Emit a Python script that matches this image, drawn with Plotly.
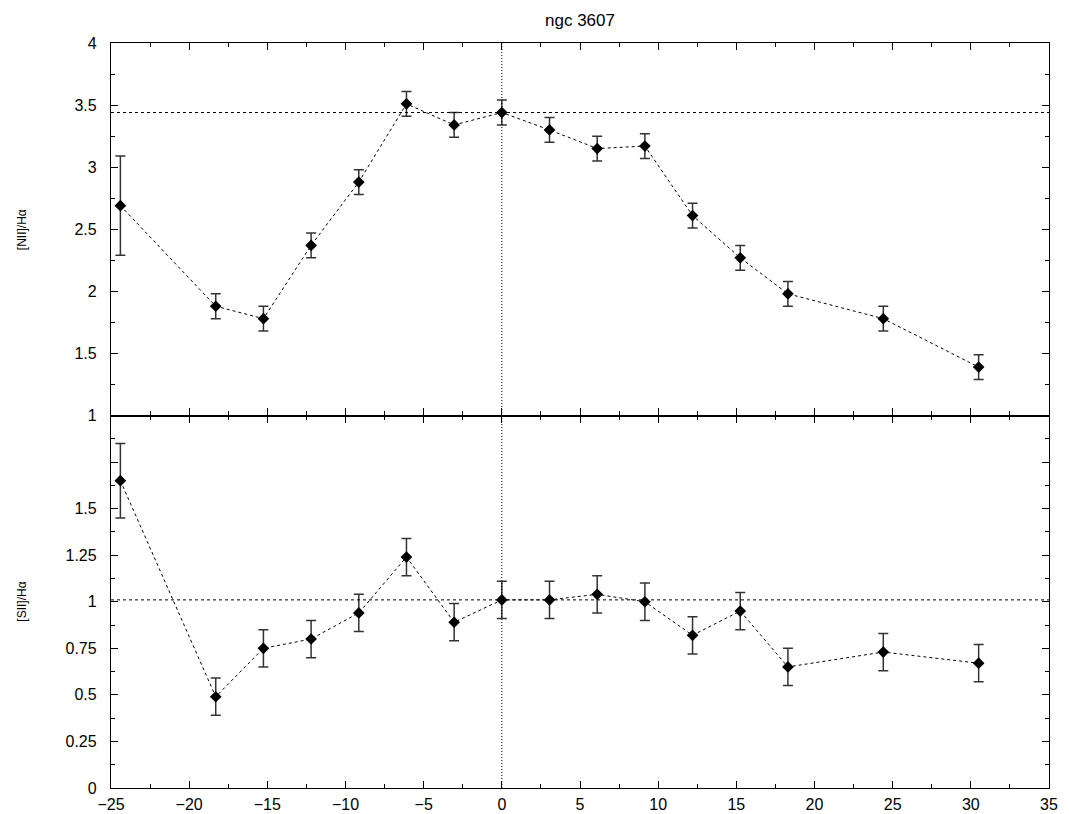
import plotly.graph_objects as go

# Data
positions = [-24.4, -18.3, -15.25, -12.2, -9.15, -6.1, -3.05, 0.0, 3.05, 6.1, 9.15, 12.2, 15.25, 18.3, 24.4, 30.5]
nii_ha = [2.69, 1.88, 1.78, 2.37, 2.88, 3.51, 3.34, 3.44, 3.30, 3.15, 3.17, 2.61, 2.27, 1.98, 1.78, 1.39]
nii_err = [0.40, 0.10, 0.10, 0.10, 0.10, 0.10, 0.10, 0.10, 0.10, 0.10, 0.10, 0.10, 0.10, 0.10, 0.10, 0.10]
sii_ha = [1.65, 0.49, 0.75, 0.80, 0.94, 1.24, 0.89, 1.01, 1.01, 1.04, 1.00, 0.82, 0.95, 0.65, 0.73, 0.67]
sii_err = [0.20, 0.10, 0.10, 0.10, 0.10, 0.10, 0.10, 0.10, 0.10, 0.10, 0.10, 0.10, 0.10, 0.10, 0.10, 0.10]
nii_ref = 3.44
sii_ref = 1.01
x_ticks = [-25, -20, -15, -10, -5, 0, 5, 10, 15, 20, 25, 30, 35]
x_labels = ["\u221225", "\u221220", "\u221215", "\u221210", "\u22125", "0", "5", "10", "15", "20", "25", "30", "35"]
top_y_ticks = [1, 1.5, 2, 2.5, 3, 3.5, 4]
top_y_labels = ["1", "1.5", "2", "2.5", "3", "3.5", "4"]
bot_y_ticks = [0, 0.25, 0.5, 0.75, 1, 1.25, 1.5, 1.75]
bot_y_labels = ["0", "0.25", "0.5", "0.75", "1", "1.25", "1.5", ""]
title = "ngc 3607"
top_label = "[NII]/H\u03b1"
bot_label = "[SII]/H\u03b1"

FONT = "Liberation Sans, Arial, Helvetica, sans-serif"

fig = go.Figure()

def add_series(y, err, xa, ya):
    fig.add_trace(go.Scatter(
        x=positions, y=y, xaxis=xa, yaxis=ya,
        mode="lines+markers",
        line=dict(color="black", width=1, dash="dot"),
        marker=dict(symbol="diamond", size=9, color="black"),
        error_y=dict(type="data", array=err, visible=True,
                     color="#333333", thickness=1.5, width=5),
        showlegend=False,
    ))

add_series(nii_ha, nii_err, "x", "y")
add_series(sii_ha, sii_err, "x2", "y2")

axis_common = dict(
    showline=True, linecolor="black", linewidth=1.3, mirror="ticks",
    ticks="inside", ticklen=7, tickwidth=1, tickcolor="black",
    showgrid=False, zeroline=False,
    tickfont=dict(family=FONT, size=16, color="black"),
)

fig.update_layout(
    width=1069, height=814,
    paper_bgcolor="white", plot_bgcolor="white",
    margin=dict(l=103, r=28, t=35, b=34, autoexpand=False),
    xaxis=dict(axis_common, range=[-25, 35], tickvals=x_ticks, showticklabels=False,
               anchor="y", domain=[0, 1],
               minor=dict(dtick=2.5, tick0=0, ticks="inside", ticklen=4, tickcolor="black")),
    yaxis=dict(axis_common, range=[1, 4], tickvals=top_y_ticks, ticktext=top_y_labels,
               domain=[0.5, 1], anchor="x", ticklabelstandoff=10,
               minor=dict(dtick=0.25, tick0=0, ticks="inside", ticklen=4, tickcolor="black")),
    xaxis2=dict(axis_common, range=[-25, 35], tickvals=x_ticks, ticktext=x_labels,
                anchor="y2", domain=[0, 1], ticklabelstandoff=2,
                minor=dict(dtick=2.5, tick0=0, ticks="inside", ticklen=4, tickcolor="black")),
    yaxis2=dict(axis_common, range=[0, 2], tickvals=bot_y_ticks, ticktext=bot_y_labels,
                domain=[0, 0.5], anchor="x2", ticklabelstandoff=10,
                minor=dict(dtick=0.125, tick0=0, ticks="inside", ticklen=4, tickcolor="black")),
)

# title as annotation (kept inside the canvas)
fig.add_annotation(text=title, xref="paper", yref="paper", x=0.5, y=1.044,
                   showarrow=False, xanchor="center", yanchor="top", borderpad=0,
                   font=dict(family=FONT, size=17, color="black"))

fig.add_annotation(text=top_label, xref="paper", yref="paper", x=-0.095, y=0.75,
                   textangle=-90, showarrow=False, xanchor="center", yanchor="middle",
                   font=dict(family=FONT, size=12, color="black"))
fig.add_annotation(text=bot_label, xref="paper", yref="paper", x=-0.095, y=0.25,
                   textangle=-90, showarrow=False, xanchor="center", yanchor="middle",
                   font=dict(family=FONT, size=12, color="black"))

# reference lines
fig.add_shape(type="line", xref="x", yref="paper", x0=0, x1=0, y0=0, y1=1,
              line=dict(color="black", width=1, dash="1px,2px"))
fig.add_shape(type="line", xref="paper", yref="y", x0=0, x1=1, y0=nii_ref, y1=nii_ref,
              line=dict(color="black", width=1, dash="3px,3px"))
fig.add_shape(type="line", xref="paper", yref="y2", x0=0, x1=1, y0=sii_ref, y1=sii_ref,
              line=dict(color="black", width=1, dash="3px,3px"))

fig.write_html("out.html")
